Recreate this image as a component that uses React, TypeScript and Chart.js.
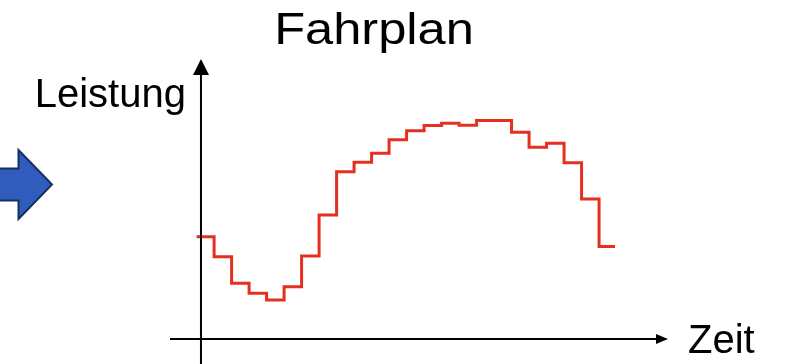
import React, { useEffect, useRef } from "react";
import { Chart, registerables } from "chart.js";

Chart.register(...registerables);

// Step boundaries (time units) and power level for each step
const stepStarts = [-0.25, 0.75, 1.75, 2.75, 3.75, 4.75, 5.75, 6.75, 7.75, 8.75, 9.75, 10.75, 11.75, 12.75, 13.75, 14.75, 15.75, 16.75, 17.75, 18.75, 19.75, 20.75, 21.75, 22.75];
const powerValues = [37.2, 29.9, 20.3, 16.6, 14.2, 19.0, 30.2, 45.1, 60.8, 64.3, 67.5, 72.4, 75.7, 77.6, 78.4, 77.7, 79.4, 79.4, 75.2, 69.7, 71.2, 64.1, 50.9, 33.6];
const stepEnd = 23.66;

const titleText = "Fahrplan";
const yLabel = "Leistung";
const xLabel = "Zeit";

const X_MIN = -1.77;
const X_MAX = 26.69;
const Y_MIN = -9.09;
const Y_MAX = 101.8;

const decorPlugin = {
  id: "decor",
  afterDatasetsDraw(chart: any) {
    const { ctx, scales } = chart;
    const xs = scales.x;
    const ys = scales.y;
    const x0 = xs.getPixelForValue(0);
    const y0 = ys.getPixelForValue(0);
    const top = ys.getPixelForValue(Y_MAX);
    const bottom = ys.getPixelForValue(Y_MIN);
    const left = xs.getPixelForValue(X_MIN);
    const right = xs.getPixelForValue(X_MAX);
    ctx.save();
    ctx.strokeStyle = "#000";
    ctx.fillStyle = "#000";
    ctx.lineWidth = 2;
    // y axis
    ctx.beginPath();
    ctx.moveTo(x0, bottom);
    ctx.lineTo(x0, top + 14);
    ctx.stroke();
    ctx.beginPath();
    ctx.moveTo(x0, top);
    ctx.lineTo(x0 - 8, top + 16);
    ctx.lineTo(x0 + 8, top + 16);
    ctx.closePath();
    ctx.fill();
    // x axis
    ctx.beginPath();
    ctx.moveTo(left, y0);
    ctx.lineTo(right - 10, y0);
    ctx.stroke();
    ctx.beginPath();
    ctx.moveTo(right, y0);
    ctx.lineTo(right - 12, y0 - 5);
    ctx.lineTo(right - 12, y0 + 5);
    ctx.closePath();
    ctx.fill();

    // texts
    ctx.fillStyle = "#000";
    ctx.textBaseline = "alphabetic";
    ctx.save();
    ctx.translate(374, 44);
    ctx.scale(1.15, 1);
    ctx.font = '44px "Liberation Sans", Arial, sans-serif';
    ctx.textAlign = "center";
    ctx.fillText(titleText, 0, 0);
    ctx.restore();
    ctx.font = '40px "Liberation Sans", Arial, sans-serif';
    ctx.textAlign = "right";
    ctx.fillText(yLabel, x0 - 15, 107);
    ctx.textAlign = "left";
    ctx.fillText(xLabel, right + 20, 353);

    // blue decorative arrow at left edge
    ctx.beginPath();
    ctx.moveTo(-5, 168.5);
    ctx.lineTo(18.5, 168.5);
    ctx.lineTo(18.5, 150);
    ctx.lineTo(52, 184.5);
    ctx.lineTo(18.5, 219);
    ctx.lineTo(18.5, 200.5);
    ctx.lineTo(-5, 200.5);
    ctx.closePath();
    ctx.fillStyle = "#2f5cbd";
    ctx.fill();
    ctx.strokeStyle = "#16305e";
    ctx.lineWidth = 2;
    ctx.stroke();
    ctx.restore();
  },
};

export default function App() {
  const canvasRef = useRef<HTMLCanvasElement | null>(null);

  useEffect(() => {
    document.body.style.margin = "0";
    const canvas = canvasRef.current;
    if (!canvas) return;
    const points = stepStarts.map((x, i) => ({ x, y: powerValues[i] }));
    points.push({ x: stepEnd, y: powerValues[powerValues.length - 1] });
    const chart = new Chart(canvas, {
      type: "line",
      data: {
        datasets: [
          {
            data: points,
            borderColor: "#e3301f",
            borderWidth: 3,
            pointRadius: 0,
            stepped: "before",
            fill: false,
          },
        ],
      },
      options: {
        animation: false,
        responsive: false,
        maintainAspectRatio: false,
        layout: { padding: { left: 170, right: 122, top: 59, bottom: 0 } },
        plugins: { legend: { display: false }, tooltip: { enabled: false }, title: { display: false } },
        scales: {
          x: { type: "linear", min: X_MIN, max: X_MAX, display: false },
          y: { type: "linear", min: Y_MIN, max: Y_MAX, display: false },
        },
      },
      plugins: [decorPlugin],
    });
    return () => chart.destroy();
  }, []);

  return (
    <div style={{ width: 790, height: 364, background: "#fff" }}>
      <canvas ref={canvasRef} width={790} height={364} />
    </div>
  );
}
